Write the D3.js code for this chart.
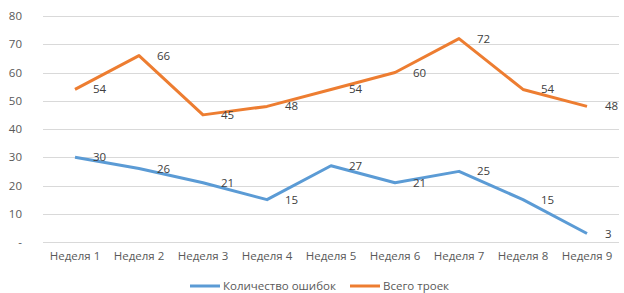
<!DOCTYPE html>
<html>
<head>
<meta charset="utf-8">
<script src="https://cdn.jsdelivr.net/npm/d3@7"></script>
<style>
  body { margin: 0; background: #fff; }
  svg { display: block; font-family: "Open Sans", "Liberation Sans", sans-serif; }
</style>
</head>
<body>
<svg id="chart" width="624" height="293"></svg>
<script>
const weeks = ['Неделя 1', 'Неделя 2', 'Неделя 3', 'Неделя 4', 'Неделя 5', 'Неделя 6', 'Неделя 7', 'Неделя 8', 'Неделя 9']
const errors = [30, 26, 21, 15, 27, 21, 25, 15, 3]
const triples = [54, 66, 45, 48, 54, 60, 72, 54, 48]
const yTicks = [0, 10, 20, 30, 40, 50, 60, 70, 80]
const seriesNames = ['Количество ошибок', 'Всего троек']

const colors = ['#5B9BD5', '#ED7D31']
const margin = { top: 16, right: 5, bottom: 51, left: 43 }
const width = 624
const height = 293
const fs = 11.5

const svg = d3.select('#chart')

const x = d3.scaleBand()
  .domain(weeks)
  .range([margin.left, width - margin.right])

const y = d3.scaleLinear()
  .domain([0, 80])
  .range([height - margin.bottom, margin.top])

// gridlines
svg.append('g')
  .selectAll('line')
  .data(yTicks)
  .join('line')
  .attr('x1', margin.left)
  .attr('x2', width - margin.right)
  .attr('y1', d => Math.round(y(d)) + 0.5)
  .attr('y2', d => Math.round(y(d)) + 0.5)
  .attr('stroke', '#d9d9d9')
  .attr('stroke-width', 1)

// y axis labels
svg.append('g')
  .call(d3.axisLeft(y).tickValues(yTicks).tickSize(0).tickPadding(0)
    .tickFormat(d => d === 0 ? '-' : d))
  .attr('transform', `translate(${margin.left - 21},0)`)
  .call(g => g.select('.domain').remove())
  .call(g => g.selectAll('text').attr('fill', '#595959').attr('font-size', fs)
    .attr('font-family', '"Open Sans", "Liberation Sans", sans-serif'))

// x axis labels
svg.append('g')
  .attr('transform', `translate(0,${height - margin.bottom + 10})`)
  .call(d3.axisBottom(x).tickSize(0).tickPadding(0))
  .call(g => g.select('.domain').remove())
  .call(g => g.selectAll('text').attr('fill', '#595959').attr('font-size', fs)
    .attr('font-family', '"Open Sans", "Liberation Sans", sans-serif'))

const cx = d => x(d) + x.bandwidth() / 2
const line = d3.line()
  .x((d, i) => cx(weeks[i]))
  .y(d => y(d))

const series = [errors, triples]

series.forEach((values, s) => {
  svg.append('path')
    .datum(values)
    .attr('fill', 'none')
    .attr('stroke', colors[s])
    .attr('stroke-width', 3)
    .attr('stroke-linejoin', 'round')
    .attr('d', line)

  svg.append('g')
    .selectAll('text')
    .data(values)
    .join('text')
    .attr('x', (d, i) => cx(weeks[i]) + 18)
    .attr('y', d => y(d))
    .attr('dy', '0.35em')
    .attr('fill', '#404040')
    .attr('font-size', fs)
    .text(d => d)
})

// legend
const legend = svg.append('g')
  .attr('transform', `translate(0,${height - 3})`)
const legendX = [190, 350]
seriesNames.forEach((name, i) => {
  const g = legend.append('g').attr('transform', `translate(${legendX[i]},0)`)
  g.append('line')
    .attr('x1', 0).attr('x2', 30)
    .attr('y1', -4).attr('y2', -4)
    .attr('stroke', colors[i])
    .attr('stroke-width', 3)
  g.append('text')
    .attr('x', 33)
    .attr('y', 0)
    .attr('fill', '#595959')
    .attr('font-size', fs)
    .text(name)
})
</script>
</body>
</html>
